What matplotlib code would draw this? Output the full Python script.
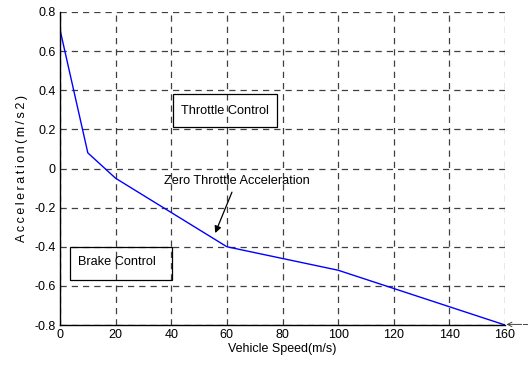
import matplotlib
matplotlib.use("Agg")
import matplotlib.pyplot as plt
from matplotlib.patches import Rectangle

plt.rcParams['font.family'] = ['Liberation Sans', 'DejaVu Sans']

speed = [0, 10, 20, 60, 100, 160]
accel = [0.71, 0.08, -0.05, -0.40, -0.52, -0.80]
xticks = [0, 20, 40, 60, 80, 100, 120, 140, 160]
yticks = [-0.8, -0.6, -0.4, -0.2, 0, 0.2, 0.4, 0.6, 0.8]
ytick_labels = ['-0.8', '-0.6', '-0.4', '-0.2', '0', '0.2', '0.4', '0.6', '0.8']

fig = plt.figure(figsize=(5.28, 3.70), dpi=100)
ax = fig.add_axes([60/528, 1 - 325/370, 445/528, 313/370])

ax.plot(speed, accel, color='#0000ff', linewidth=1.0)
ax.set_xlim(0, 160)
ax.set_ylim(-0.8, 0.8)
ax.set_xticks(xticks)
ax.set_yticks(yticks)
ax.set_yticklabels(ytick_labels)
ax.tick_params(labelsize=9, length=0, pad=3)
ax.grid(True, color='black', linestyle=(0, (5, 4)), linewidth=0.9, alpha=0.75)
for s in ['top', 'right']:
    ax.spines[s].set_visible(False)
for s in ['left', 'bottom']:
    ax.spines[s].set_linewidth(1.0)

ax.set_xlabel('Vehicle Speed(m/s)', fontsize=9, labelpad=1)
ylabel = '\u2009'.join('Acceleration(m/s2)')
ax.set_ylabel(ylabel, fontsize=9, labelpad=5)

ax.add_patch(Rectangle((40.6, 0.21), 37.4, 0.17, fill=False, edgecolor='black', linewidth=0.9, zorder=3))
ax.text(59.3, 0.295, 'Throttle Control', fontsize=9.2, ha='center', va='center', zorder=4)
ax.add_patch(Rectangle((3.6, -0.57), 36.7, 0.17, fill=False, edgecolor='black', linewidth=0.9, zorder=3))
ax.text(20.5, -0.48, 'Brake Control', fontsize=9.2, ha='center', va='center', zorder=4)

ax.annotate('Zero Throttle Acceleration', xy=(55.8, -0.33), xytext=(63.5, -0.063),
            fontsize=9.2, ha='center', va='center',
            arrowprops=dict(arrowstyle='-|>', color='black', linewidth=0.9,
                            mutation_scale=10, shrinkA=2, shrinkB=0))

ax.annotate('', xy=(160.5, -0.797), xytext=(166, -0.797), annotation_clip=False,
            arrowprops=dict(arrowstyle='->', color='#444444', linewidth=0.7,
                            mutation_scale=8, shrinkA=0, shrinkB=0))
ax.plot([166.5, 168], [-0.797, -0.797], color='#444444', linewidth=0.7, clip_on=False)

fig.savefig('out.png', dpi=100)
